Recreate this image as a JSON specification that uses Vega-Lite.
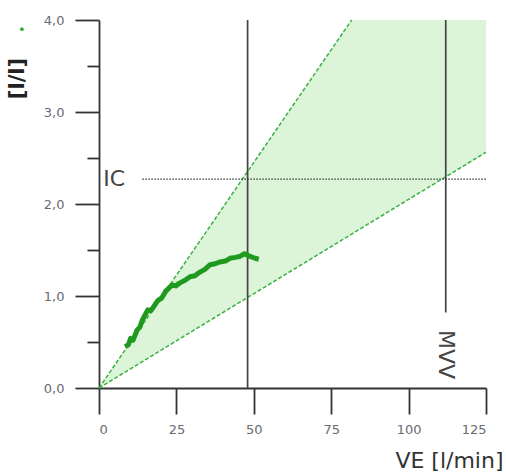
{
  "$schema": "https://vega.github.io/schema/vega-lite/v6.json",
  "width": 387,
  "height": 368,
  "autosize": "none",
  "padding": {"left": 99, "top": 20, "right": 20, "bottom": 88},
  "background": "white",
  "config": {
    "view": {"stroke": null},
    "font": "DejaVu Sans",
    "axis": {"grid": false, "domainColor": "#333", "domainWidth": 1.8, "tickColor": "#333", "tickWidth": 1.8, "labelFont": "DejaVu Sans", "labelColor": "#6a6a70", "labelFontSize": 13, "titleFont": "DejaVu Sans", "titleFontWeight": "normal", "titleColor": "#333"}
  },
  "datasets": {
    "wedge": [
      {"ve": 0, "lo": 0, "hi": 0},
      {"ve": 81.6, "lo": 1.673, "hi": 4},
      {"ve": 125, "lo": 2.5625, "hi": 4}
    ],
    "bounds": [
      {"ve": 0, "v": 0, "edge": "upper"},
      {"ve": 81.6, "v": 4, "edge": "upper"},
      {"ve": 0, "v": 0, "edge": "lower"},
      {"ve": 125, "v": 2.5625, "edge": "lower"}
    ],
    "curve": [
      {"ve": 8.4, "v": 0.45}, {"ve": 9.5, "v": 0.47}, {"ve": 10.2, "v": 0.54}, {"ve": 11.0, "v": 0.52},
      {"ve": 12.3, "v": 0.63}, {"ve": 13.2, "v": 0.66}, {"ve": 14.0, "v": 0.74}, {"ve": 15.8, "v": 0.85},
      {"ve": 16.8, "v": 0.84}, {"ve": 18.0, "v": 0.9}, {"ve": 19.0, "v": 0.95}, {"ve": 20.3, "v": 0.98},
      {"ve": 21.5, "v": 1.05}, {"ve": 23.6, "v": 1.12}, {"ve": 24.8, "v": 1.11}, {"ve": 26.0, "v": 1.14},
      {"ve": 27.8, "v": 1.17}, {"ve": 29.4, "v": 1.21}, {"ve": 31.0, "v": 1.22}, {"ve": 32.6, "v": 1.26},
      {"ve": 34.2, "v": 1.29}, {"ve": 35.9, "v": 1.34}, {"ve": 37.5, "v": 1.35}, {"ve": 39.0, "v": 1.37},
      {"ve": 40.8, "v": 1.38}, {"ve": 42.3, "v": 1.41}, {"ve": 44.0, "v": 1.42}, {"ve": 45.5, "v": 1.43},
      {"ve": 47.0, "v": 1.46}, {"ve": 48.8, "v": 1.43}, {"ve": 50.4, "v": 1.41}, {"ve": 51.6, "v": 1.4}
    ],
    "verticals": [
      {"ve": 48, "from": 0, "to": 4},
      {"ve": 112, "from": 0.82, "to": 4}
    ],
    "ic": [{"start": 14, "end": 125, "v": 2.27}],
    "labels": [
      {"ve": 1.4, "v": 2.27, "text": "IC", "angle": 0},
      {"ve": 112, "v": 0.63, "text": "MVV", "angle": 90}
    ],
    "marker": [{"ve": -24.9, "v": 3.9}]
  },
  "layer": [
    {
      "data": {"name": "wedge"},
      "mark": {"type": "area", "color": "#dcf5d9", "opacity": 1},
      "encoding": {
        "x": {"field": "ve", "type": "quantitative", "scale": {"domain": [0, 125], "nice": false, "zero": false},
          "axis": {"values": [0, 25, 50, 75, 100, 125], "tickSize": 26, "labelPadding": 9, "title": "VE [l/min]", "titleFontSize": 22, "titleAnchor": "end", "titleAlign": "right", "titleX": 404, "titleY": 79, "titleBaseline": "alphabetic"}},
        "y": {"field": "lo", "type": "quantitative", "scale": {"domain": [0, 4], "nice": false},
          "axis": {"values": [0, 0.5, 1, 1.5, 2, 2.5, 3, 3.5, 4],
            "tickSize": {"condition": {"test": "datum.value % 1 == 0", "value": 24}, "value": 12},
            "labelExpr": "datum.value % 1 == 0 ? replace(format(datum.value, '.1f'), '.', ',') : ''",
            "labelPadding": 11, "title": "[l/l]", "titleFontSize": 21, "titleFontWeight": "bold", "titleColor": "#222", "titleX": -72, "titleY": 58, "titleAlign": "center", "titleBaseline": "bottom"}},
        "y2": {"field": "hi"}
      }
    },
    {
      "data": {"name": "bounds"},
      "mark": {"type": "line", "color": "#3cb043", "strokeWidth": 1.5, "strokeDash": [4, 2]},
      "encoding": {
        "x": {"field": "ve", "type": "quantitative"},
        "y": {"field": "v", "type": "quantitative"},
        "detail": {"field": "edge"}
      }
    },
    {
      "data": {"name": "verticals"},
      "mark": {"type": "rule", "color": "#444", "strokeWidth": 1.7},
      "encoding": {
        "x": {"field": "ve", "type": "quantitative"},
        "y": {"field": "from", "type": "quantitative"},
        "y2": {"field": "to"}
      }
    },
    {
      "data": {"name": "ic"},
      "mark": {"type": "rule", "color": "#333", "strokeWidth": 1.4, "strokeDash": [1.5, 1.5]},
      "encoding": {
        "x": {"field": "start", "type": "quantitative"},
        "x2": {"field": "end"},
        "y": {"field": "v", "type": "quantitative"}
      }
    },
    {
      "data": {"name": "curve"},
      "mark": {"type": "line", "color": "#1f9a1f", "strokeWidth": 5, "strokeJoin": "round"},
      "encoding": {
        "x": {"field": "ve", "type": "quantitative"},
        "y": {"field": "v", "type": "quantitative"}
      }
    },
    {
      "data": {"name": "labels"},
      "mark": {"type": "text", "fontSize": 22, "color": "#444", "align": "left", "baseline": "middle", "font": "DejaVu Sans"},
      "encoding": {
        "x": {"field": "ve", "type": "quantitative"},
        "y": {"field": "v", "type": "quantitative"},
        "text": {"field": "text"},
        "angle": {"field": "angle", "type": "quantitative", "scale": null}
      }
    },
    {
      "data": {"name": "marker"},
      "mark": {"type": "point", "filled": true, "color": "#2fb02f", "size": 14, "opacity": 1},
      "encoding": {
        "x": {"field": "ve", "type": "quantitative"},
        "y": {"field": "v", "type": "quantitative"}
      }
    }
  ]
}
